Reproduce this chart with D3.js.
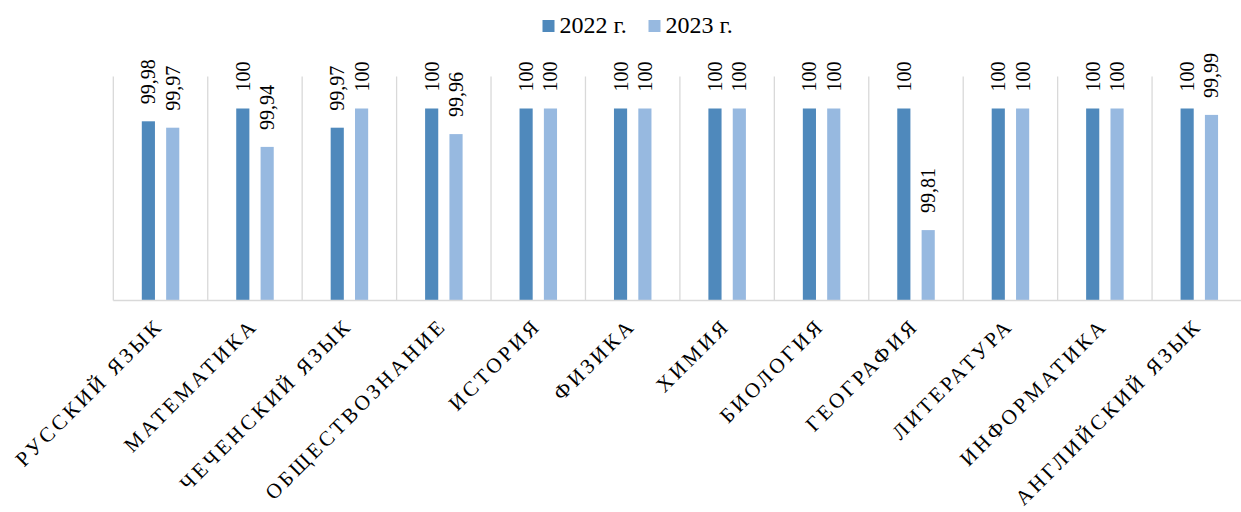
<!DOCTYPE html>
<html><head><meta charset="utf-8">
<script src="https://cdn.jsdelivr.net/npm/d3@7"></script>
<style>
html,body{margin:0;padding:0;background:#fff;}
svg{display:block;}
</style></head>
<body>
<svg id="c" width="1241" height="512"></svg>
<script>
const categories = ["РУССКИЙ ЯЗЫК","МАТЕМАТИКА","ЧЕЧЕНСКИЙ ЯЗЫК","ОБЩЕСТВОЗНАНИЕ","ИСТОРИЯ","ФИЗИКА","ХИМИЯ","БИОЛОГИЯ","ГЕОГРАФИЯ","ЛИТЕРАТУРА","ИНФОРМАТИКА","АНГЛИЙСКИЙ ЯЗЫК"];
const seriesNames = ["2022 г.","2023 г."];
const values2022 = [99.98,100,99.97,100,100,100,100,100,100,100,100,100];
const values2023 = [99.97,99.94,100,99.96,100,100,100,100,99.81,100,100,99.99];
const labels2022 = ["99,98","100","99,97","100","100","100","100","100","100","100","100","100"];
const labels2023 = ["99,97","99,94","100","99,96","100","100","100","100","99,81","100","100","99,99"];
const colors = ["#4f89bc","#97b9e0"];
const FONT = '"Liberation Serif"';

const svg = d3.select("#c");
const x0 = d3.scaleBand().domain(categories).range([113.3, 1246.5]).paddingInner(0).paddingOuter(0);
const x1 = d3.scaleBand().domain(seriesNames).range([28.5, 66]).paddingInner(0.46).paddingOuter(0);
const y = d3.scaleLinear().domain([99.7, 100.05]).range([300.5, 76.5]);

// gridlines (category separators)
const bounds = categories.map(c => x0(c)).concat([x0.range()[1]]);
svg.append("g").selectAll("line").data(bounds).join("line")
  .attr("x1", d => d).attr("x2", d => d)
  .attr("y1", y(100.05)).attr("y2", y(99.7))
  .attr("stroke", "#d9d9d9").attr("stroke-width", 1.3);

const series = [
  {name: seriesNames[0], vals: values2022, labs: labels2022, color: colors[0]},
  {name: seriesNames[1], vals: values2023, labs: labels2023, color: colors[1]}
];

series.forEach(s => {
  const g = svg.append("g");
  g.selectAll("rect").data(categories).join("rect")
    .attr("x", (c) => x0(c) + x1(s.name))
    .attr("width", x1.bandwidth())
    .attr("y", (c, i) => y(s.vals[i]))
    .attr("height", (c, i) => y(99.7) - y(s.vals[i]))
    .attr("fill", s.color);
  g.selectAll("text").data(categories).join("text")
    .attr("transform", (c, i) => `translate(${x0(c) + x1(s.name) + x1.bandwidth()/2},${y(s.vals[i]) - 17}) rotate(-90)`)
    .attr("dy", "0.35em")
    .attr("text-anchor", "start")
    .style("font-family", FONT)
    .style("font-size", "20px")
    .attr("fill", "#000")
    .text((c, i) => s.labs[i]);
});

// baseline
svg.append("line")
  .attr("x1", x0.range()[0]).attr("x2", x0.range()[1])
  .attr("y1", y(99.7)).attr("y2", y(99.7))
  .attr("stroke", "#d9d9d9").attr("stroke-width", 1.5);

// category labels
svg.append("g").selectAll("text").data(categories).join("text")
  .attr("transform", c => `translate(${x0(c) + x0.bandwidth()/2 + 4},327) rotate(-45)`)
  .attr("text-anchor", "end")
  .style("font-family", FONT)
  .style("font-size", "21px")
  .style("letter-spacing", "3.2px")
  .attr("fill", "#000")
  .text(c => c);

// legend
const legendX = [542.5, 648.5];
const lg = svg.append("g");
series.forEach((s, i) => {
  lg.append("rect").attr("x", legendX[i]).attr("y", 20).attr("width", 12).attr("height", 12).attr("fill", s.color);
  lg.append("text").attr("x", legendX[i] + 17).attr("y", 33)
    .style("font-family", FONT).style("font-size", "24px").attr("fill", "#000").text(s.name);
});
</script>
</body></html>
